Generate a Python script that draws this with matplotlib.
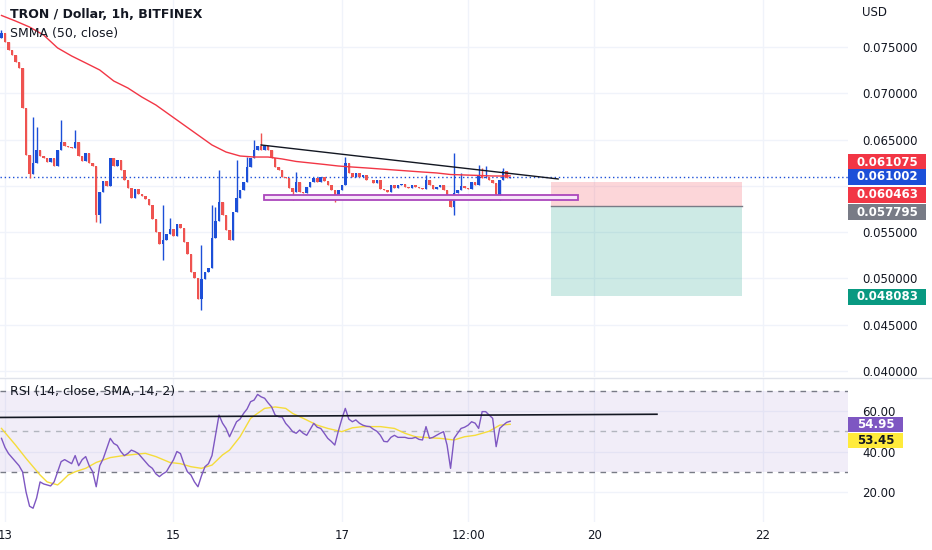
import matplotlib
matplotlib.use('Agg')
import matplotlib.pyplot as plt
import matplotlib.dates as mdates
from matplotlib.patches import Rectangle
import numpy as np
import pandas as pd

plt.rcParams['font.family'] = ['DejaVu Sans']

# hourly closes, TRX/USD, first candle 12 Jun 23:00
first_open = 0.07598
closes = [
    0.07652, 0.07554, 0.07468, 0.07414, 0.07338, 0.07274, 0.06842, 0.06334, 0.06129, 0.06248,
    0.06388, 0.06323, 0.06302, 0.06258, 0.06302, 0.06215, 0.06388, 0.06474, 0.06431, 0.06420,
    0.06410, 0.06474, 0.06323, 0.06269, 0.06356, 0.06248, 0.06215, 0.05686, 0.05934, 0.06053,
    0.05999, 0.06302, 0.06215, 0.06280, 0.06172, 0.06064, 0.05978, 0.05870, 0.05967, 0.05913,
    0.05891, 0.05859, 0.05794, 0.05643, 0.05502, 0.05373, 0.05416, 0.05481, 0.05535, 0.05459,
    0.05589, 0.05546, 0.05394, 0.05265, 0.05070, 0.05006, 0.04779, 0.04995, 0.05070, 0.05114,
    0.05438, 0.05621, 0.05826, 0.05686, 0.05524, 0.05416, 0.05718, 0.05870, 0.05956, 0.06042,
    0.06204, 0.06302, 0.06388, 0.06431, 0.06388, 0.06431, 0.06388, 0.06302, 0.06204, 0.06172,
    0.06096, 0.06086, 0.05978, 0.05934, 0.06042, 0.05934, 0.05924, 0.05988, 0.06042, 0.06086,
    0.06042, 0.06096, 0.06053, 0.06010, 0.05956, 0.05891, 0.05956, 0.06010, 0.06248, 0.06140,
    0.06096, 0.06140, 0.06096, 0.06118, 0.06064, 0.06064, 0.06032, 0.06064, 0.05967, 0.05956,
    0.05934, 0.06010, 0.05978, 0.06010, 0.06021, 0.05988, 0.05978, 0.06010, 0.05988, 0.05978,
    0.05967, 0.06064, 0.06010, 0.05967, 0.05988, 0.06010, 0.05956, 0.05880, 0.05772, 0.05924,
    0.05956, 0.05999, 0.05978, 0.05967, 0.06042, 0.06010, 0.06107, 0.06086, 0.06096, 0.06064,
    0.06032, 0.05880, 0.06064, 0.06161, 0.06086, 0.061002,
]
# visible wick extremes (candle index -> price)
highs = {0: 0.07684, 9: 0.06744, 10: 0.06636, 17: 0.06712, 21: 0.06604, 46: 0.05794,
         48: 0.05654, 57: 0.05362, 60: 0.05794, 61: 0.05772, 62: 0.06172, 67: 0.06280,
         70: 0.06312, 72: 0.06496, 74: 0.06572, 84: 0.06150, 98: 0.06312, 121: 0.06118,
         129: 0.06356, 131: 0.06140, 136: 0.06226, 137: 0.06194, 138: 0.06215, 143: 0.06194}
lows = {8: 0.06086, 27: 0.05610, 28: 0.05600, 46: 0.05200, 57: 0.04660, 83: 0.05848,
        95: 0.05826, 129: 0.05686, 142: 0.05848}

smma_idx = list(range(0, 145, 4)) + [145]
smma = [0.07841, 0.07781, 0.07716, 0.07630, 0.07490, 0.07403, 0.07328, 0.07252, 0.07133, 0.07058,
        0.06960, 0.06874, 0.06766, 0.06658, 0.06550, 0.06442, 0.06366, 0.06323, 0.06312, 0.06312,
        0.06291, 0.06264, 0.06248, 0.06232, 0.06215, 0.06204, 0.06194, 0.06183, 0.06172, 0.06161,
        0.06150, 0.06140, 0.06123, 0.06118, 0.06113, 0.06107, 0.06107, 0.061075]

rsi = [46.5, 42, 39, 37, 35, 33, 30, 20, 13, 12,
       17, 25, 24, 23.5, 23, 25, 30, 35, 36, 35,
       34, 38, 33, 36, 37.5, 33, 30, 22.6, 33, 36.5,
       41.5, 46.5, 44, 43, 40, 38, 39, 40.7, 40, 39,
       37, 35, 33, 31.7, 29, 27.6, 29, 30, 33, 35.8,
       40, 39, 34, 30, 28.4, 25, 22.6, 28, 32.5, 34,
       38, 48, 58, 54, 51.4, 47.3, 51, 54.7, 56, 58.8,
       61, 64.6, 65.4, 68.2, 67, 66.3, 64, 62, 58, 57.2,
       57, 53.9, 52, 49.8, 49, 50.6, 49, 48, 51, 53.9,
       52, 51.4, 49, 46.5, 45, 43.2, 50, 56, 61.3, 56,
       54.7, 55.6, 54, 53, 52.5, 52.3, 51, 50, 48, 45,
       44.8, 47, 48, 47, 47, 47, 46.5, 46.5, 47, 46,
       45.7, 52.3, 46.5, 47, 48, 49, 49.8, 43.2, 31.7, 46.5,
       49, 51.4, 52, 53, 54.7, 54, 51.4, 59.7, 59.7, 58,
       56.4, 42.4, 51.4, 53, 54.4, 54.95]
rsi_ma_idx = [0, 4, 7, 11, 13, 16, 17, 19, 21, 24, 27, 31, 34, 38, 41, 44, 48, 51, 54, 57,
              60, 63, 65, 68, 71, 75, 78, 81, 83, 86, 90, 93, 97, 100, 103, 108, 112, 115, 118, 122,
              125, 129, 132, 135, 139, 142, 145]
rsi_ma = [51.4, 43.2, 36.6, 28.4, 25, 23.5, 25, 28.4, 30, 31.7, 34.6, 37, 37.8, 38.6, 39.1, 37.5,
          34.6, 34, 32.5, 31.7, 33.3, 38.3, 40.7, 47.3, 56.4, 61.3, 62, 61.3, 58.8, 56.4, 53, 51.4,
          49.8, 51.7, 52.3, 52.3, 51.4, 49, 47.3, 46.8, 46.5, 45.7, 47.3, 48, 50, 53, 53.45]

# drawings
trend_t = ['2022-06-16 01:00', '2022-06-19 13:40']
trend_p = [0.06442, 0.06075]
box_t = ['2022-06-16 01:50', '2022-06-19 19:20']
box_p = [0.05848, 0.05905]
pos_t = ['2022-06-19 11:40', '2022-06-21 18:05']
entry, stop, target = 0.057795, 0.060463, 0.048083
last_price, smma_last = 0.061002, 0.061075
rsi_line_t = ['2022-06-12 20:00', '2022-06-20 17:50']
rsi_line_v = [56.8, 58.4]

tick_dates = ['2022-06-13 00:00', '2022-06-15 00:00', '2022-06-17 00:00',
              '2022-06-18 12:00', '2022-06-20 00:00', '2022-06-22 00:00']
tick_labels = ['13', '15', '17', '12:00', '20', '22']
price_grid = [0.040, 0.045, 0.050, 0.055, 0.060, 0.065, 0.070, 0.075]
price_ticks = [0.040, 0.045, 0.050, 0.055, 0.065, 0.070, 0.075]  # 0.060 hidden under tags
rsi_ticks = [20, 40, 60]

UP, DOWN = '#1c4fd8', '#ef5350'
TXT = '#131722'
GRID = '#f0f3fa'

W, H = 932, 550
fig = plt.figure(figsize=(W / 100, H / 100), dpi=100)


def fx(px):
    return px / W


def fy(py):
    return 1 - py / H


def dnum(t):
    return mdates.date2num(pd.to_datetime(t, format='%Y-%m-%d %H:%M'))


ax = fig.add_axes([0, fy(377), fx(848), 377 / H])
axr = fig.add_axes([0, fy(522), fx(848), (522 - 378) / H], sharex=ax)

times = pd.date_range('2022-06-12 23:00', periods=len(closes), freq='h')
x = mdates.date2num(times)
c = np.array(closes)
o = np.array([first_open] + closes[:-1])
cols = [UP if cc >= oo else DOWN for oo, cc in zip(o, c)]
hi = [highs.get(i, max(o[i], c[i])) for i in range(len(c))]
lo = [lows.get(i, min(o[i], c[i])) for i in range(len(c))]
bottom = np.minimum(o, c)
height = np.maximum(np.abs(c - o), 0.00005)

# grid
for a in (ax, axr):
    for d in dnum(tick_dates):
        a.axvline(d, color=GRID, lw=1, zorder=0)
for p in price_grid:
    ax.axhline(p, color=GRID, lw=1, zorder=0)
for v in rsi_ticks:
    axr.axhline(v, color=GRID, lw=1, zorder=0)

# short position zones
pt0, pt1 = dnum(pos_t)
ax.add_patch(Rectangle((pt0, entry), pt1 - pt0, stop - entry, facecolor='#f23645', alpha=0.2,
                       lw=0, zorder=1))
ax.add_patch(Rectangle((pt0, target), pt1 - pt0, entry - target, facecolor='#089981', alpha=0.2,
                       lw=0, zorder=1))
ax.plot([pt0, pt1], [entry, entry], color='#787b86', lw=1, zorder=2)

# candles
ax.vlines(x, lo, hi, colors=cols, lw=1, zorder=3)
ax.bar(x, height, bottom=bottom, width=0.03, color=cols, lw=0, zorder=3)

# smma
ax.plot(x[smma_idx], smma, color='#f23645', lw=1, zorder=4)

# last price line
ax.axhline(last_price, color=UP, lw=1, ls=(0, (1, 2)), zorder=2)

# trend line and box
ax.plot(dnum(trend_t), trend_p, color='#131722', lw=1, zorder=5)
bt = dnum(box_t)
ax.add_patch(Rectangle((bt[0], box_p[0]), bt[1] - bt[0], box_p[1] - box_p[0], facecolor='#f6e6f8',
                       edgecolor='#ab47bc', lw=1.3, zorder=5))

x0 = dnum('2022-06-13 00:00')
ax.set_xlim(x0 - 5 / 84.2, x0 + 843 / 84.2)
ax.set_ylim(0.03936, 0.08008)
ax.set_yticks(price_ticks)
ax.yaxis.set_major_formatter(matplotlib.ticker.FormatStrFormatter('%.6f'))
ax.yaxis.tick_right()
ax.tick_params(axis='y', length=0, pad=10, labelsize=8.5, labelcolor=TXT)
ax.tick_params(axis='x', length=0, labelbottom=False)

# RSI panel
axr.axhspan(30, 70, color='#7e57c2', alpha=0.1, lw=0, zorder=0)
axr.axhline(70, color='#787b86', lw=1, ls=(0, (4, 4)), zorder=1)
axr.axhline(30, color='#787b86', lw=1, ls=(0, (4, 4)), zorder=1)
axr.axhline(50, color='#b2b5be', lw=1, ls=(0, (4, 4)), zorder=1)
axr.plot(x, rsi, color='#7e57c2', lw=1, zorder=3)
axr.plot(x[rsi_ma_idx], rsi_ma, color='#f5dc3a', lw=1, zorder=2)
axr.plot(dnum(rsi_line_t), rsi_line_v, color='#131722', lw=1.2, zorder=4)
axr.set_ylim(5.2, 76.3)
axr.set_yticks(rsi_ticks)
axr.yaxis.set_major_formatter(matplotlib.ticker.FormatStrFormatter('%.2f'))
axr.yaxis.tick_right()
axr.tick_params(axis='y', length=0, pad=10, labelsize=8.5, labelcolor=TXT)
axr.set_xticks(dnum(tick_dates))
axr.set_xticklabels(tick_labels)
axr.tick_params(axis='x', length=0, pad=5, labelsize=8.5, labelcolor=TXT)

for a in (ax, axr):
    for s in a.spines.values():
        s.set_visible(False)

# panel separator
fig.add_artist(plt.Line2D([0, 1], [fy(377.5), fy(377.5)], color='#e0e3eb', lw=1))

# legends
fig.text(fx(10), fy(15), 'TRON / Dollar, 1h, BITFINEX', fontsize=9, fontweight='bold',
         color=TXT, va='center')
fig.text(fx(10), fy(33), 'SMMA (50, close)', fontsize=9, color=TXT, va='center')
fig.text(fx(10), fy(392), 'RSI (14, close, SMA, 14, 2)', fontsize=9, color=TXT, va='center')
fig.text(fx(862), fy(13), 'USD', fontsize=8.5, color=TXT, va='center')


def tag(value, fmt, py, bg, fg='white', width=78, h=16):
    fig.add_artist(Rectangle((fx(848), fy(py + h / 2)), fx(width), h / H,
                             transform=fig.transFigure, facecolor=bg, lw=0))
    fig.text(fx(848 + width / 2), fy(py), fmt % value, fontsize=8.5, fontweight='bold',
             color=fg, ha='center', va='center')


tag(smma_last, '%.6f', 162, '#f23645')
tag(last_price, '%.6f', 177, UP)
tag(stop, '%.6f', 195, '#f23645')
tag(entry, '%.6f', 212, '#787b86')
tag(target, '%.6f', 297, '#089981')
tag(rsi[-1], '%.2f', 424, '#7e57c2', width=55, h=15)
tag(rsi_ma[-1], '%.2f', 440, '#ffeb3b', fg=TXT, width=55, h=15)

fig.savefig('out.png', dpi=100)
